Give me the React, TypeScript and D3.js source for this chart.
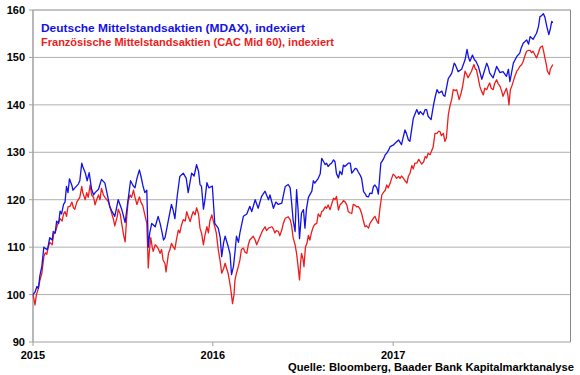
import React from "react";
import * as d3 from "d3";

// Days since 2015-01-01 and indexed values (start = 100)
const mdaxDays = [0,4,8,11,14,18,22,28,30,34,39,41,45,48,52,55,58,62,65,68,71,74,79,81,85,92,95,99,101,106,110,114,119,123,126,133,139,146,153,156,160,166,173,180,187,193,198,203,207,211,216,219,223,227,231,234,237,241,248,254,258,261,265,268,275,281,284,288,293,298,305,311,315,322,327,332,336,339,342,346,349,353,357,364,369,376,380,383,387,390,396,400,403,407,410,413,417,420,427,434,440,444,451,457,464,471,478,481,488,493,498,505,512,518,522,525,528,532,535,538,541,545,549,552,555,559,566,569,572,579,583,586,590,593,596,599,603,606,610,613,616,620,623,627,630,633,640,644,647,650,654,657,660,664,667,671,674,677,681,684,688,691,694,698,701,706,711,715,718,722,725,731,735,742,748,751,755,758,762,765,772,779,783,786,792,796,799,802,808,813,816,820,824,830,833,836,843,846,850,855,857,863,870,877,881,884,887,892,896,899,904,911,914,921,924,927,934,941,948,954,961,965,968,975,982,988,991,995,1002,1006,1009,1015,1022,1026,1029,1032,1036,1039,1043,1047,1050,1053,1055];
const mdaxValues = [100,100.5,101.7,101.3,104,106,110,109.5,109.8,112,111.5,113.3,113,115.5,115,117.6,117,119,119.5,122.8,121.5,124.4,123,122,122.5,123.3,124,127.7,127,125.7,124,125.7,122.2,121,121.5,122.2,124.3,123.5,120,118.5,117.6,116.5,120,118,115.2,120,124,123,122.5,124.5,126.3,125,123,121.5,122,110,113,115,114.3,116.5,115,113.6,111.5,112,115.8,119,118,116,121,124.9,125.6,124.5,121.5,125.6,125,127.4,126,123.2,122.8,118,120,123.6,122.5,122.9,115,114,112,108,111,112.3,110.2,108.5,104.2,106,109,112.3,111,113,116.5,117,118.6,117.5,120,118.2,120.7,121.8,120,121,118.2,119.5,119,119.3,122.8,123.2,122.5,119.3,115.7,113.3,122.1,118,111.8,117.2,117.9,114,118,120.5,121.8,124,123.5,124.5,125.5,128.7,128,127.4,127.7,127,127.5,127.7,128.4,128,125.5,124.6,126,125.3,127.3,127,127.7,127.7,125.6,126,126.6,126.5,125.9,125.2,124.5,121.7,121.3,120.7,120.6,121.4,121.3,122.8,123.1,122.5,121.2,127.7,128.5,129.5,129.8,130.5,131.2,131.5,131.9,132.6,131.6,133,134.7,134,132.6,132.3,137.2,139,138,138.6,137.9,139,139,137.6,136.9,140,141.5,143.2,142.5,142.9,142,141.8,145.6,146,146.7,148.8,148.5,147,147.5,149.5,151.7,150,149.2,150.5,149.5,149.2,148.1,145.4,146.4,148.8,148,146.7,145.7,148.1,146.8,147,146,147.5,144.9,148.8,150.2,150.9,152,153,153.7,152.8,154.4,153.8,155.1,156.5,158.6,158.8,159.2,158.5,156.5,154.8,156,157.6,157.3];

const cacDays = [0,2,4,7,10,14,18,22,25,28,31,34,39,42,45,49,55,59,62,65,68,71,75,79,82,85,89,92,95,99,101,106,109,112,116,119,123,126,129,133,136,139,143,146,153,156,160,163,166,171,173,177,180,184,187,190,193,197,200,204,207,211,216,219,223,227,231,234,236,239,242,244,248,251,255,258,261,264,268,270,275,278,281,285,288,291,295,298,301,305,309,312,315,319,322,325,329,332,336,339,342,346,349,353,356,359,363,366,369,372,376,380,383,387,390,393,396,401,405,408,410,413,417,420,423,427,430,434,437,440,447,451,454,458,461,466,471,474,478,485,488,491,494,498,501,505,508,512,518,522,525,528,532,535,538,541,543,545,548,550,553,556,559,562,565,569,572,576,579,583,586,589,593,596,599,603,606,610,613,616,620,623,626,630,633,637,640,644,647,650,654,657,660,664,667,671,674,677,681,684,687,691,694,698,701,704,708,711,715,718,721,725,728,731,735,738,742,745,748,752,755,759,762,765,769,772,775,779,783,786,789,793,796,799,802,806,809,812,816,820,823,826,829,833,836,839,843,846,850,853,857,860,863,865,869,872,877,880,883,887,890,895,898,900,904,907,910,914,917,921,924,927,930,934,937,941,944,948,951,954,958,961,964,966,969,972,975,978,982,985,988,992,995,999,1002,1006,1009,1012,1015,1019,1022,1026,1029,1032,1034,1037,1039,1042,1044,1046,1048,1050,1053,1055];
const cacValues = [100,99,97.8,100,101,103,104.5,108,108.8,108.5,110,111,110.5,112.8,113,114.5,116,115.5,117,117.5,116.5,118.5,118.6,119.5,118.3,118,119.5,120,120.5,122.8,121.5,120,121.5,120.5,123.1,121,120.5,118.9,120,121,120,122.4,121,120.5,119.6,118.5,117,116,114.5,116.5,118,117,115,112.5,111.1,116,119.6,121,120.5,122,120.5,119,120.6,119.5,118.7,116.8,115,105.6,109,112,110,109.1,110.5,110.2,109.5,108.7,109.5,107.3,106.5,104.8,108.7,109.5,110.8,110,109.5,111.5,113.6,113,114.5,115.8,115.5,117.5,116.5,115.4,116.5,117.5,116.8,118.3,117,114,113,110.5,112.5,114.3,113,115.5,116.8,115.5,114.3,113,109.5,107,104.5,105.5,106.6,105.5,104.5,101.5,98.1,100,103.1,104.5,106,107.3,109.5,109.8,109,108.7,110.5,111.5,112.3,111.5,110.5,111.5,112.3,113.5,114.3,113.5,114,114.3,113.8,113,113.5,113.3,112.4,113.6,115,116.1,116.4,115.8,114.5,112,110.5,108.7,106,103.1,106.5,108.7,107.5,105.9,110,110.8,112.5,111.5,113,114.3,114.8,115,117,116.4,117.5,117.7,118.5,118.2,118.9,117.9,119,120.3,120,120.7,117.8,118.9,119.2,119.8,119.6,118.9,117.5,117.2,117.1,119,118.8,118.5,118.6,118,117.1,115.4,114.3,114.5,114,115,115.5,116.1,116.5,115.5,115,118,121,121.5,122,123.1,122.5,123.5,124.5,125.4,125,124.5,124.9,124.5,125,124.5,124,123.5,125,125.5,127.2,126.5,127.7,127.7,128.5,128,127.5,128,129.1,128.8,129.8,129.5,130.3,131,134,134,134.4,134.4,133.5,134,132.3,133,137.9,139.6,141.2,143.2,143,143.2,142,141.1,142.5,143.9,147.1,146.5,145.7,146.5,147.1,148.5,147.5,147.5,145.5,143.9,143,142.1,143.5,143.2,144,144.6,143.5,143.2,144.5,145.3,144.5,143.9,143,141.8,142.8,143.5,142,140,143.2,144,145,146,147.1,147.5,148.1,148.5,149.2,150.5,151.3,151.5,151.5,151,151.3,150.5,149.9,151,152,152.3,152.4,151,149.9,148.5,147.1,146.8,146.4,147.5,148.1,148.5];

const yTicks = [90, 100, 110, 120, 130, 140, 150, 160];
const xTickYears = [2015, 2016, 2017];
const legendLabels = [
  "Deutsche Mittelstandsaktien (MDAX), indexiert",
  "Französische Mittelstandsaktien (CAC Mid 60), indexiert",
];
const sourceLabel = "Quelle: Bloomberg, Baader Bank Kapitalmarktanalyse";

const W = 580;
const H = 375;
const plot = { left: 33, right: 570.5, top: 10, bottom: 342 };
const FONT = "'Liberation Sans', Arial, sans-serif";
const BLUE = "#1212e6";
const RED = "#ee1c1c";

const start = new Date(2015, 0, 1);
const toDate = (d: number) => d3.timeDay.offset(start, d);

export default function App() {
  const x = d3
    .scaleTime()
    .domain([start, new Date(2017, 11, 27)])
    .range([plot.left, plot.right]);
  const y = d3.scaleLinear().domain([90, 160]).range([plot.bottom, plot.top]);

  const line = d3
    .line<[number, number]>()
    .x((d) => x(toDate(d[0])))
    .y((d) => y(d[1]));

  const mdax: [number, number][] = mdaxDays.map((d, i) => [d, mdaxValues[i]]);
  const cac: [number, number][] = cacDays.map((d, i) => [d, cacValues[i]]);

  return (
    <svg
      width={W}
      height={H}
      style={{ position: "absolute", left: 0, top: 0, background: "#fff" }}
      fontFamily={FONT}
    >
      <rect x={0} y={0} width={W} height={H} fill="#fff" />
      {yTicks.map((t) => (
        <g key={t}>
          {t !== 90 && t !== 160 && (
            <line x1={plot.left} x2={plot.right} y1={y(t)} y2={y(t)} stroke="#b0b0b0" strokeWidth={1} />
          )}
          <line x1={plot.left - 4} x2={plot.left} y1={y(t)} y2={y(t)} stroke="#a0a0a0" strokeWidth={1} />
          <text
            x={25}
            y={y(t)}
            dy="0.36em"
            textAnchor="end"
            fontSize={11}
            fontWeight="bold"
            fill="#000"
          >
            {t}
          </text>
        </g>
      ))}
      {/* frame */}
      <line x1={plot.left} x2={plot.right} y1={plot.top} y2={plot.top} stroke="#888" strokeWidth={1} />
      <line x1={plot.right} x2={plot.right} y1={plot.top} y2={plot.bottom} stroke="#888" strokeWidth={1} />
      <line x1={plot.left} x2={plot.right} y1={plot.bottom} y2={plot.bottom} stroke="#a0a0a0" strokeWidth={1} />
      <line x1={plot.left} x2={plot.left} y1={plot.top} y2={plot.bottom} stroke="#a0a0a0" strokeWidth={1.5} />
      {xTickYears.map((yr) => {
        const px = x(new Date(yr, 0, 1));
        return (
          <g key={yr}>
            <line x1={px} x2={px} y1={plot.bottom} y2={plot.bottom + 4} stroke="#a0a0a0" />
            <text x={px} y={359} textAnchor="middle" fontSize={11} fontWeight="bold" fill="#000">
              {yr}
            </text>
          </g>
        );
      })}
      <path d={line(cac) || ""} fill="none" stroke={RED} strokeWidth={1.3} strokeLinejoin="round" />
      <path d={line(mdax) || ""} fill="none" stroke={BLUE} strokeWidth={1.3} strokeLinejoin="round" />
      <text x={41} y={32} fontSize={11} fontWeight="bold" fill={BLUE} textLength={264} lengthAdjust="spacingAndGlyphs">
        {legendLabels[0]}
      </text>
      <text x={41} y={46} fontSize={11} fontWeight="bold" fill={RED} textLength={293} lengthAdjust="spacingAndGlyphs">
        {legendLabels[1]}
      </text>
      <text x={574} y={371} textAnchor="end" fontSize={11} fontWeight="bold" fill="#000" textLength={286} lengthAdjust="spacingAndGlyphs">
        {sourceLabel}
      </text>
    </svg>
  );
}
